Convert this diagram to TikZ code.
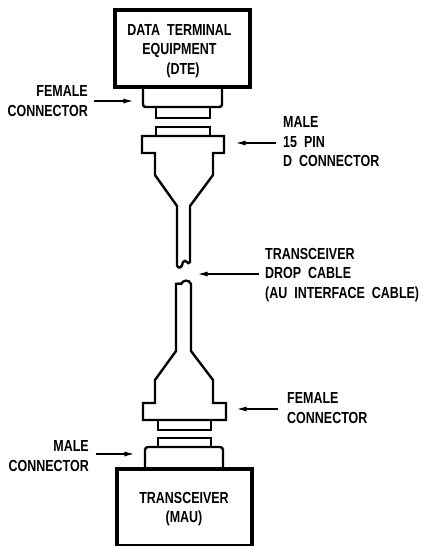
\documentclass[tikz,border=0pt]{standalone}
\usepackage{fontspec}
\setmainfont[FakeStretch=0.78,WordSpace=2]{Liberation Sans}
\usepackage{tikz}
\usetikzlibrary{arrows.meta,positioning}
\begin{document}
\begin{tikzpicture}[
  x=1pt, y=-1pt,
  unit/.style={draw, line width=3.2pt, inner sep=0pt, align=center},
  plug/.style={draw, line width=2.4pt, line join=miter},
  label/.style={inner sep=0pt, align=left, font=\fontsize{16}{19.5}\selectfont\bfseries},
  arrow/.style={-{Latex[length=3.4mm,width=1.8mm]}, line width=1.1pt}
]
\useasboundingbox (0,0) rectangle (423,546);
\node[unit, minimum width=135pt, minimum height=77pt] (dte) at (182.5,48.5) {};
\node[label, align=center, anchor=north] (dtetext) at (179.5,24) {DATA TERMINAL\\EQUIPMENT\\\hspace*{7pt}(DTE)};
\node[unit, minimum width=135pt, minimum height=77pt] (mau) at (184.5,507.5) {};
\node[label, align=center, anchor=north] (mautext) at (184,492) {TRANSCEIVER\\(MAU)};

% upper connector pair
\draw[plug, rounded corners=2.5pt] (143,87) -- (143,107) -- (222,107) -- (222,87);
\draw[plug] (156,107) -- (156,118) -- (210,118) -- (210,107);
\draw[plug] (156,136) -- (156,127) -- (210,127) -- (210,136);
\draw[plug] (177,266) -- (177,206) -- (155,175) -- (155,153) -- (142,153) -- (142,136)
  -- (224,136) -- (224,153) -- (213,153) -- (213,175) -- (190,206) -- (190,262)
  .. controls (188,266) and (186,258) .. (183,262) .. controls (182,268) and (179,269) .. (177,266);

% lower connector pair
\draw[plug] (176,351) -- (176,284) .. controls (178,282) and (179,285) .. (181,284)
  .. controls (183,280) and (189,279) .. (191,284) -- (191,351) -- (213,380) -- (213,403)
  -- (226,403) -- (226,420) -- (143,420) -- (143,403) -- (155,403) -- (155,380) -- cycle;
\draw[plug] (158,420) -- (158,430) -- (211,430) -- (211,420);
\draw[plug] (158,447) -- (158,438) -- (211,438) -- (211,447);
\draw[plug, rounded corners=3pt] (145,469) -- (145,447) -- (223,447) -- (223,469);

% labels
\node[label, align=right, anchor=north east] (dtefemale) at (88,85.5) {FEMALE\\CONNECTOR};
\node[label, anchor=north west] (male15) at (283,116.5) {MALE\\15 PIN\\D CONNECTOR};
\node[label, anchor=north west] (cable) at (265,248) {TRANSCEIVER\\DROP CABLE\\(AU INTERFACE CABLE)};
\node[label, anchor=north west] (maufemale) at (287,392.5) {FEMALE\\CONNECTOR};
\node[label, align=right, anchor=north east] (maumale) at (89,440.5) {MALE\\CONNECTOR};

\coordinate (dtefemaletip) at (133,101);
\coordinate (male15tip) at (236,143);
\coordinate (cabletip) at (198,274);
\coordinate (maufemaletip) at (237,409);
\coordinate (maumaletip) at (134,454);

\draw[arrow] (dtefemale.east |- dtefemaletip) ++(6,0) -- (dtefemaletip);
\draw[arrow] (male15.west |- male15tip) ++(-7,0) -- (male15tip);
\draw[arrow] (cable.west |- cabletip) ++(-6,0) -- (cabletip);
\draw[arrow] (maufemale.west |- maufemaletip) ++(-9,0) -- (maufemaletip);
\draw[arrow] (maumale.east |- maumaletip) ++(7,0) -- (maumaletip);
\end{tikzpicture}
\end{document}
